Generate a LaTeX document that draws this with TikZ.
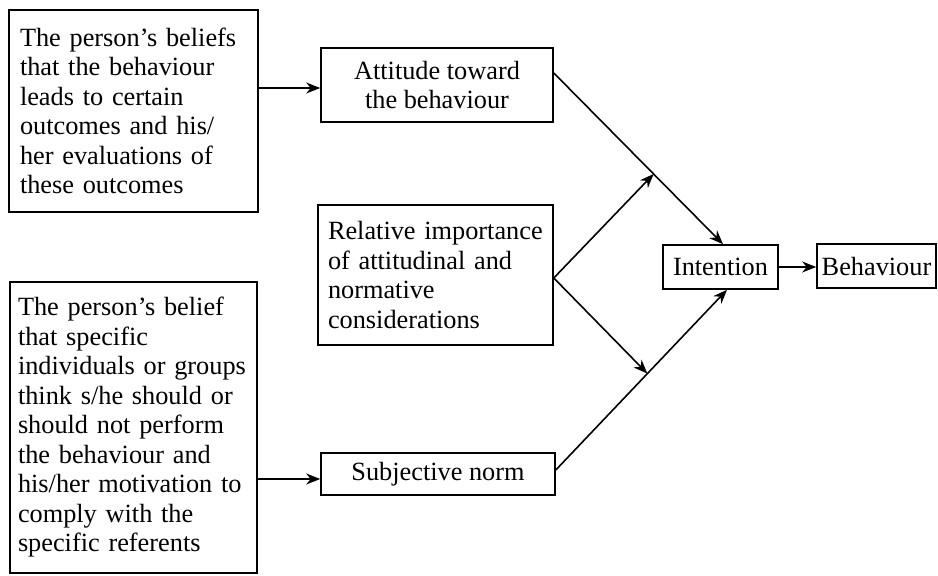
\documentclass[tikz,border=0pt]{standalone}
\usepackage{fontspec}
\setmainfont{Liberation Serif}
\usetikzlibrary{arrows.meta,calc}
\begin{document}
\begin{tikzpicture}[x=1pt,y=1pt,
  box/.style={draw,line width=1.6pt,inner sep=0pt,font=\fontsize{26.3}{29.5}\selectfont},
  lbox/.style={box,align=left},
  cbox/.style={box,align=center},
  arr/.style={line width=1.6pt,-{Stealth[length=14pt,width=11pt,inset=4.5pt]}}]
\useasboundingbox (0,0) rectangle (938,-576);
\node[lbox,minimum width=249,minimum height=202,text width=227] (b1) at (133.5,-111)
  {The person’s beliefs\\that the behaviour\\leads to certain\\outcomes and his/\\her evaluations of\\these outcomes};
\node[cbox,minimum width=232,minimum height=74] (b2) at (437,-85)
  {Attitude toward\\the behaviour};
\node[lbox,minimum width=235,minimum height=140,text width=215] (b3) at (435.5,-275)
  {Relative importance\\of attitudinal and\\normative\\considerations};
\node[lbox,minimum width=247,minimum height=291,text width=231] (b4) at (133.5,-427.5)
  {The person’s belief\\that specific\\individuals or groups\\think s/he should or\\should not perform\\the behaviour and\\his/her motivation to\\comply with the\\specific referents};
\node[cbox,minimum width=234,minimum height=42] (b5) at (438,-474)
  {Subjective norm};
\node[cbox,minimum width=115,minimum height=44] (int) at (720.5,-267)
  {Intention};
\node[cbox,minimum width=119,minimum height=44] (beh) at (876.5,-266)
  {Behaviour};
% connectors
\draw[arr] ([yshift=-3]b2.west -| b1.east) -- ([yshift=-3]b2.west);
\draw[arr] ([yshift=-5]b5.west -| b4.east) -- ([yshift=-5]b5.west);
\coordinate (s1) at ([yshift=12]b2.east);
\coordinate (e1) at ([xshift=2.5]int.north);
\coordinate (j1) at ($(s1)!0.59!(e1)$);
\coordinate (s2) at ([yshift=4]b5.east);
\coordinate (e2) at ([xshift=6.5]int.south);
\coordinate (j2) at ($(s2)!0.535!(e2)$);
\coordinate (s3) at ([yshift=-3]b3.east);
\draw[arr] (s1) -- (e1);
\draw[arr] (s2) -- (e2);
\draw[arr] (s3) -- (j1);
\draw[arr] (s3) -- (j2);
\draw[arr] (int.east) -- (int.east -| beh.west);
\end{tikzpicture}
\end{document}
